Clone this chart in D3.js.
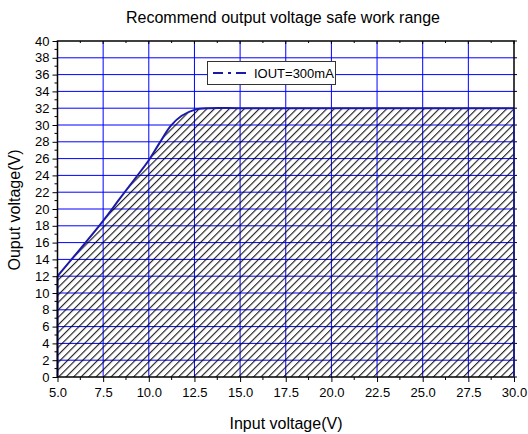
<!DOCTYPE html>
<html><head><meta charset="utf-8">
<script src="https://cdn.jsdelivr.net/npm/d3@7/dist/d3.min.js"></script>
<style>body{margin:0;background:#fff}svg{display:block}text{font-family:"Liberation Sans",Arial,sans-serif}</style>
</head><body><svg id="c" width="528" height="434"></svg>
<script>
const inputV = [5, 7.5, 8.4, 9.24, 10, 10.6, 11.2, 11.8, 12.5, 13.3, 15, 20, 25, 30];
const outputV = [12, 18.6, 21.2, 23.6, 25.8, 27.9, 29.9, 31.1, 31.8, 32, 32, 32, 32, 32];
const xTicks = [5, 7.5, 10, 12.5, 15, 17.5, 20, 22.5, 25, 27.5, 30];
const yTicks = d3.range(0, 41, 2);
const legendLabel = "IOUT=300mA";
const title = "Recommend output voltage safe work range";
const xTitle = "Input voltage(V)";
const yTitle = "Ouput voltage(V)";

const svg = d3.select("#c");
const L = 57.5, R = 514, T = 41, B = 377;
const x = d3.scaleLinear().domain([5, 30]).range([L, R]);
const y = d3.scaleLinear().domain([0, 40]).range([B, T]);
const data = inputV.map((v, i) => [v, outputV[i]]);

const defs = svg.append("defs");
const pat = defs.append("pattern").attr("id", "hatch").attr("patternUnits", "userSpaceOnUse")
  .attr("width", 5.3).attr("height", 10).attr("patternTransform", "rotate(45)");
pat.append("line").attr("x1", 0.6).attr("y1", 0).attr("x2", 0.6).attr("y2", 10)
  .attr("stroke", "#000").attr("stroke-width", 1);

// grid
const g = svg.append("g");
g.selectAll(".gx").data(xTicks.slice(1, -1)).join("line")
  .attr("x1", d => x(d)).attr("x2", d => x(d)).attr("y1", T).attr("y2", B)
  .attr("stroke", "#0000ff").attr("stroke-width", 1);
g.selectAll(".gy").data(yTicks.slice(1, -1)).join("line")
  .attr("x1", L).attr("x2", R).attr("y1", d => y(d)).attr("y2", d => y(d))
  .attr("stroke", "#0000ff").attr("stroke-width", 1);

// hatched area
const crv = d3.curveCatmullRom.alpha(0.5);
const area = d3.area().x(d => x(d[0])).y0(B).y1(d => y(d[1])).curve(crv);
svg.append("path").datum(data).attr("d", area).attr("fill", "url(#hatch)");
const line = d3.line().x(d => x(d[0])).y(d => y(d[1])).curve(crv);
svg.append("path").datum(data).attr("d", line).attr("fill", "none")
  .attr("stroke", "#1a1aa6").attr("stroke-width", 2);
svg.append("line").attr("x1", L).attr("x2", L).attr("y1", y(12)).attr("y2", B)
  .attr("stroke", "#1a1aa6").attr("stroke-width", 2);

// axes
const xAxis = d3.axisBottom(x).tickValues(xTicks).tickFormat(d3.format(".1f")).tickSize(5).tickPadding(6);
const gxA = svg.append("g").attr("transform", `translate(0,${B})`).call(xAxis);
const yAxis = d3.axisLeft(y).tickValues(yTicks).tickFormat(d3.format("d")).tickSize(5).tickPadding(3);
const gyA = svg.append("g").attr("transform", `translate(${L},0)`).call(yAxis);
[gxA, gyA].forEach(a => {
  a.select(".domain").remove();
  a.selectAll("line").attr("stroke", "#000").attr("stroke-width", 1);
  a.selectAll("text").attr("font-size", 13).attr("fill", "#000").attr("font-family", "Liberation Sans, Arial, sans-serif");
});
// minor ticks
const xMinor = d3.range(6.25, 30, 2.5);
const yMinor = d3.range(1, 40, 2);
svg.selectAll(".xm").data(xMinor).join("line").attr("x1", d => x(d)).attr("x2", d => x(d))
  .attr("y1", B).attr("y2", B + 3).attr("stroke", "#000");
svg.selectAll(".ym").data(yMinor).join("line").attr("y1", d => y(d)).attr("y2", d => y(d))
  .attr("x1", L - 3).attr("x2", L).attr("stroke", "#000");
// top/right ticks
svg.selectAll(".xt").data(xTicks).join("line").attr("x1", d => x(d)).attr("x2", d => x(d))
  .attr("y1", T).attr("y2", T + 3).attr("stroke", "#000");
svg.selectAll(".xtm").data(xMinor).join("line").attr("x1", d => x(d)).attr("x2", d => x(d))
  .attr("y1", T).attr("y2", T + 2).attr("stroke", "#000");
svg.selectAll(".yr").data(yTicks).join("line").attr("y1", d => y(d)).attr("y2", d => y(d))
  .attr("x1", R).attr("x2", R + 3).attr("stroke", "#000");

// frame
svg.append("rect").attr("x", L).attr("y", T).attr("width", R - L).attr("height", B - T)
  .attr("fill", "none").attr("stroke", "#000").attr("stroke-width", 1.5);
svg.append("line").attr("x1", R).attr("x2", R).attr("y1", y(32)).attr("y2", B)
  .attr("stroke", "#1a1aa6").attr("stroke-width", 1.5);

// legend
const lg = svg.append("g");
lg.append("rect").attr("x", 207.5).attr("y", 61.5).attr("width", 128).attr("height", 23)
  .attr("fill", "#fff").attr("stroke", "#333").attr("stroke-width", 1);
lg.append("line").attr("x1", 213).attr("x2", 250).attr("y1", 73).attr("y2", 73)
  .attr("stroke", "#1a1aa6").attr("stroke-width", 2).attr("stroke-dasharray", "10,5,3,5");
lg.append("text").attr("x", 254).attr("y", 78).attr("font-size", 13).text(legendLabel);

// titles
svg.append("text").attr("x", 283).attr("y", 23).attr("text-anchor", "middle").attr("font-size", 16).text(title);
svg.append("text").attr("x", 286).attr("y", 429).attr("text-anchor", "middle").attr("font-size", 16).text(xTitle);
svg.append("text").attr("transform", "translate(20,210) rotate(-90)").attr("text-anchor", "middle").attr("font-size", 16).text(yTitle);
</script></body></html>
